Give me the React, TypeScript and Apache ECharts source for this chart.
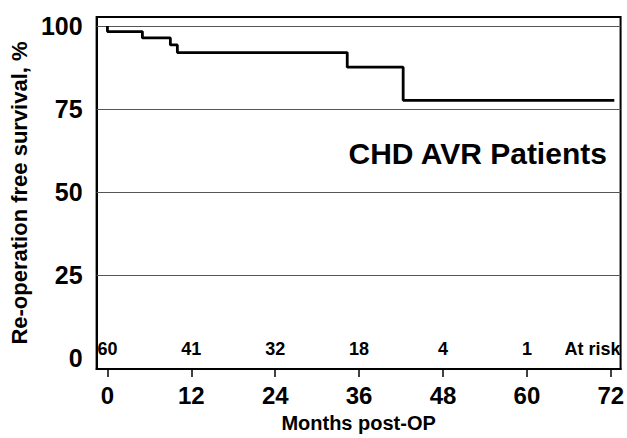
import React, { useEffect, useRef } from "react";
import * as echarts from "echarts";

// Kaplan-Meier step curve (months post-OP, % free of re-operation)
const months = [0, 0, 5, 9, 10, 34.3, 42.3, 72.5];
const survival = [100, 98.3, 96.4, 94.3, 92.0, 87.6, 77.6, 77.6];

// Axis ticks
const xTicks = [0, 12, 24, 36, 48, 60, 72];
const yTicks = [0, 25, 50, 75, 100];
const gridValues = [25, 50, 75, 100];

// Numbers at risk
const riskMonths = [0, 12, 24, 36, 48, 60];
const atRisk = [60, 41, 32, 18, 4, 1];
const atRiskLabelMonth = 69.4;
const atRiskRowY = 2.6;

const FONT = "'Liberation Sans', Arial, Helvetica, sans-serif";

export default function App() {
  const ref = useRef<HTMLDivElement>(null);
  useEffect(() => {
    if (!ref.current) return;
    const chart = echarts.init(ref.current, null, { renderer: "svg" });
    const curve = months.map((m, i) => [m, survival[i]]);
    const riskPts = riskMonths.map((m, i) => ({ value: [m, atRiskRowY], name: String(atRisk[i]) }));
    const riskLabel = {
      show: true,
      position: "inside",
      formatter: (p: any) => p.name,
      fontSize: 18,
      fontWeight: "bold",
      color: "#000",
      opacity: 1,
      fontFamily: FONT,
    };
    chart.setOption({
      animation: false,
      backgroundColor: "#fff",
      textStyle: { fontFamily: FONT },
      grid: {
        left: 89,
        right: 3,
        top: 17,
        bottom: 66,
        show: true,
        borderColor: "#000",
        borderWidth: 2,
        containLabel: false,
      },
      xAxis: {
        type: "value",
        min: -1.55,
        max: 73.4,
        name: "Months post-OP",
        nameLocation: "middle",
        nameGap: 44,
        nameTextStyle: { fontSize: 20, fontWeight: "bold", color: "#000", fontFamily: FONT },
        axisLine: { show: true, onZero: false, lineStyle: { color: "#000", width: 2 } },
        axisTick: { show: true, customValues: xTicks, length: 8, inside: false, lineStyle: { color: "#000", width: 1.5 } },
        axisLabel: { customValues: xTicks, fontSize: 24, fontWeight: "bold", color: "#000", margin: 14, fontFamily: FONT },
        splitLine: { show: false },
      },
      yAxis: {
        type: "value",
        min: -3.3,
        max: 102.7,
        name: "Re-operation free survival, %",
        nameLocation: "middle",
        nameRotate: 90,
        nameGap: 60,
        nameTextStyle: { fontSize: 22, fontWeight: "bold", color: "#000", fontFamily: FONT },
        axisLine: { show: true, onZero: false, lineStyle: { color: "#000", width: 2 } },
        axisTick: { show: false },
        axisLabel: { customValues: yTicks, fontSize: 25, fontWeight: "bold", color: "#000", margin: 14, fontFamily: FONT },
        splitLine: { show: false },
      },
      series: [
        {
          type: "line",
          data: curve,
          step: "end",
          showSymbol: false,
          symbol: "none",
          lineStyle: { color: "#000", width: 2.8 },
          z: 5,
          markLine: {
            silent: true,
            symbol: "none",
            label: { show: false },
            lineStyle: { color: "#555", width: 1, type: "solid" },
            data: gridValues.map((v) => ({ yAxis: v })),
          },
        },
        {
          type: "scatter",
          data: riskPts,
          symbolSize: 0,
          itemStyle: { color: "#000", opacity: 1 },
          label: riskLabel,
        },
        {
          type: "scatter",
          data: [{ value: [atRiskLabelMonth, atRiskRowY], name: "At risk" }],
          symbolSize: 0,
          itemStyle: { color: "#000", opacity: 1 },
          label: riskLabel,
        },
      ],
      graphic: [
        {
          type: "text",
          right: 19,
          top: 138,
          style: {
            text: "CHD AVR Patients",
            fontSize: 30,
            fontWeight: "bold",
            fill: "#000",
            fontFamily: FONT,
          },
        },
      ],
    });
    return () => chart.dispose();
  }, []);
  return <div ref={ref} style={{ width: 627, height: 438, position: "absolute", left: 0, top: 0 }} />;
}
